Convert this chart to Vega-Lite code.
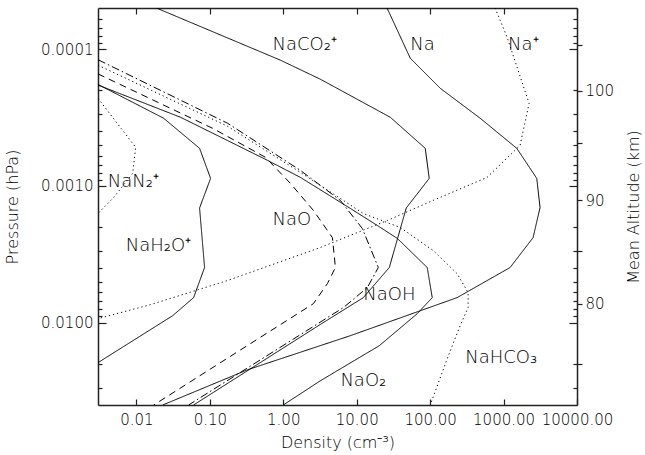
{
  "$schema": "https://vega.github.io/schema/vega-lite/v6.json",
  "width": 479,
  "height": 397,
  "autosize": {"type": "none"},
  "padding": {"left": 98, "top": 8, "right": 68, "bottom": 50},
  "background": "white",
  "config": {
    "view": {"stroke": null},
    "font": "DejaVu Sans",
    "axis": {
      "grid": false,
      "domainColor": "#222",
      "domainWidth": 1.5,
      "tickColor": "#222",
      "tickWidth": 1.2,
      "labelColor": "#000",
      "titleColor": "#000",
      "labelFont": "DejaVu Sans",
      "titleFont": "DejaVu Sans",
      "labelFontSize": 15,
      "titleFontSize": 16,
      "labelFontWeight": 300,
      "titleFontWeight": 300,
      "labelFlush": false,
      "labelOverlap": false,
      "labelBound": false
    }
  },
  "datasets": {
    "profiles": [
      {"s": "NaCO2+", "d": 0.0187, "p": 0.00005},
      {"s": "NaCO2+", "d": 0.916, "p": 0.0001204},
      {"s": "NaCO2+", "d": 3.2, "p": 0.0001659},
      {"s": "NaCO2+", "d": 28.7, "p": 0.0003149},
      {"s": "NaCO2+", "d": 85.8, "p": 0.000531},
      {"s": "NaCO2+", "d": 97.2, "p": 0.000881},
      {"s": "NaCO2+", "d": 47.3, "p": 0.00145},
      {"s": "NaCO2+", "d": 27.8, "p": 0.00395},
      {"s": "NaCO2+", "d": 12.3, "p": 0.00656},
      {"s": "NaCO2+", "d": 3.2, "p": 0.0103},
      {"s": "NaCO2+", "d": 0.06, "p": 0.04},

      {"s": "Na", "d": 25.9, "p": 0.00005},
      {"s": "Na", "d": 53.6, "p": 0.0001164},
      {"s": "Na", "d": 137, "p": 0.000193},
      {"s": "Na", "d": 480, "p": 0.00032},
      {"s": "Na", "d": 1514, "p": 0.000531},
      {"s": "Na", "d": 2831, "p": 0.000881},
      {"s": "Na", "d": 3140, "p": 0.00144},
      {"s": "Na", "d": 2522, "p": 0.00239},
      {"s": "Na", "d": 1227, "p": 0.00395},
      {"s": "Na", "d": 233, "p": 0.00656},
      {"s": "Na", "d": 8.2, "p": 0.01245},
      {"s": "Na", "d": 0.326, "p": 0.0221},
      {"s": "Na", "d": 0.0228, "p": 0.04},

      {"s": "Na+", "d": 767, "p": 0.00005},
      {"s": "Na+", "d": 1117, "p": 0.0000817},
      {"s": "Na+", "d": 2226, "p": 0.000249},
      {"s": "Na+", "d": 1679, "p": 0.000505},
      {"s": "Na+", "d": 597, "p": 0.000866},
      {"s": "Na+", "d": 110, "p": 0.001276},
      {"s": "Na+", "d": 26.1, "p": 0.00179},
      {"s": "Na+", "d": 3.2, "p": 0.00282},
      {"s": "Na+", "d": 0.174, "p": 0.00492},
      {"s": "Na+", "d": 0.0156, "p": 0.00738},
      {"s": "Na+", "d": 0.003, "p": 0.00935},

      {"s": "NaN2+", "d": 0.003, "p": 0.000229},
      {"s": "NaN2+", "d": 0.00978, "p": 0.000522},
      {"s": "NaN2+", "d": 0.0089, "p": 0.00081},
      {"s": "NaN2+", "d": 0.00491, "p": 0.001214},
      {"s": "NaN2+", "d": 0.003, "p": 0.00159},

      {"s": "NaH2O+", "d": 0.003, "p": 0.000181},
      {"s": "NaH2O+", "d": 0.0235, "p": 0.00032},
      {"s": "NaH2O+", "d": 0.0725, "p": 0.000531},
      {"s": "NaH2O+", "d": 0.1024, "p": 0.000881},
      {"s": "NaH2O+", "d": 0.0725, "p": 0.00145},
      {"s": "NaH2O+", "d": 0.0848, "p": 0.00395},
      {"s": "NaH2O+", "d": 0.0601, "p": 0.00656},
      {"s": "NaH2O+", "d": 0.0312, "p": 0.00889},
      {"s": "NaH2O+", "d": 0.003, "p": 0.0196},

      {"s": "NaO2", "d": 0.003, "p": 0.000183},
      {"s": "NaO2", "d": 0.04, "p": 0.000315},
      {"s": "NaO2", "d": 0.61, "p": 0.00065},
      {"s": "NaO2", "d": 1.71, "p": 0.000866},
      {"s": "NaO2", "d": 8.2, "p": 0.001462},
      {"s": "NaO2", "d": 19.1, "p": 0.001947},
      {"s": "NaO2", "d": 35.7, "p": 0.00242},
      {"s": "NaO2", "d": 91.3, "p": 0.00395},
      {"s": "NaO2", "d": 106.8, "p": 0.00656},
      {"s": "NaO2", "d": 66.8, "p": 0.00859},
      {"s": "NaO2", "d": 20.3, "p": 0.01474},
      {"s": "NaO2", "d": 3.2, "p": 0.0266},
      {"s": "NaO2", "d": 1.0, "p": 0.04},

      {"s": "NaO", "d": 0.003, "p": 0.0001517},
      {"s": "NaO", "d": 0.109, "p": 0.000379},
      {"s": "NaO", "d": 0.573, "p": 0.000618},
      {"s": "NaO", "d": 1.253, "p": 0.000959},
      {"s": "NaO", "d": 2.575, "p": 0.001512},
      {"s": "NaO", "d": 4.67, "p": 0.00239},
      {"s": "NaO", "d": 5.13, "p": 0.00395},
      {"s": "NaO", "d": 3.99, "p": 0.00518},
      {"s": "NaO", "d": 2.575, "p": 0.00726},
      {"s": "NaO", "d": 0.0172, "p": 0.04},

      {"s": "NaOH", "d": 0.003, "p": 0.0001194},
      {"s": "NaOH", "d": 0.1743, "p": 0.000348},
      {"s": "NaOH", "d": 1.71, "p": 0.00077},
      {"s": "NaOH", "d": 5.99, "p": 0.001276},
      {"s": "NaOH", "d": 11.94, "p": 0.00205},
      {"s": "NaOH", "d": 19.7, "p": 0.00395},
      {"s": "NaOH", "d": 13.96, "p": 0.00554},
      {"s": "NaOH", "d": 6.58, "p": 0.00776},
      {"s": "NaOH", "d": 0.0514, "p": 0.04},

      {"s": "NaHCO3", "d": 0.003, "p": 0.000131},
      {"s": "NaHCO3", "d": 0.1743, "p": 0.000366},
      {"s": "NaHCO3", "d": 1.71, "p": 0.000796},
      {"s": "NaHCO3", "d": 12.3, "p": 0.001591},
      {"s": "NaHCO3", "d": 39.2, "p": 0.002014},
      {"s": "NaHCO3", "d": 110.2, "p": 0.00297},
      {"s": "NaHCO3", "d": 233, "p": 0.00438},
      {"s": "NaHCO3", "d": 329, "p": 0.00603},
      {"s": "NaHCO3", "d": 329, "p": 0.00776},
      {"s": "NaHCO3", "d": 256, "p": 0.01052},
      {"s": "NaHCO3", "d": 170.8, "p": 0.01835},
      {"s": "NaHCO3", "d": 100.3, "p": 0.04}
    ],
    "labels": [
      {"t": "NaCO₂⁺", "d": 0.713, "p": 0.0000935},
      {"t": "Na", "d": 53.6, "p": 0.0000935},
      {"t": "Na⁺", "d": 1153, "p": 0.0000935},
      {"t": "NaN₂⁺", "d": 0.00407, "p": 0.000943},
      {"t": "NaH₂O⁺", "d": 0.00715, "p": 0.00273},
      {"t": "NaO", "d": 0.713, "p": 0.00179},
      {"t": "NaOH", "d": 12.3, "p": 0.00624},
      {"t": "NaO₂", "d": 6.0, "p": 0.0266},
      {"t": "NaHCO₃", "d": 300, "p": 0.01805}
    ]
  },
  "layer": [
    {
      "data": {"name": "profiles"},
      "mark": {"type": "line", "clip": true, "strokeWidth": 1, "color": "#000"},
      "encoding": {
        "x": {
          "field": "d", "type": "quantitative",
          "scale": {"type": "log", "domain": [0.003, 10000], "nice": false},
          "axis": {
            "orient": "bottom", "values": [0.01, 0.1, 1, 10, 100, 1000, 10000],
            "format": ".2f", "tickSize": -6, "labelPadding": 13,
            "title": "Density (cm⁻³)", "titlePadding": 7
          }
        },
        "y": {
          "field": "p", "type": "quantitative",
          "scale": {"type": "log", "domain": [0.00005, 0.04], "nice": false, "reverse": true},
          "axis": {
            "orient": "left", "values": [0.0001, 0.001, 0.01],
            "format": ".4f", "tickSize": -8, "labelPadding": 13,
            "title": "Pressure (hPa)", "titlePadding": 20
          }
        },
        "detail": {"field": "s"},
        "order": {"field": "p", "type": "quantitative"},
        "strokeDash": {
          "field": "s", "type": "nominal", "legend": null,
          "scale": {
            "domain": ["NaCO2+", "Na", "Na+", "NaN2+", "NaH2O+", "NaO2", "NaO", "NaOH", "NaHCO3"],
            "range": [[1, 0], [1, 0], [1.2, 3], [1.2, 3], [1, 0], [1, 0], [7, 5], [8, 3, 1.5, 3], [1.2, 3]]
          }
        }
      }
    },
    {
      "data": {"name": "profiles"},
      "mark": {"type": "point", "opacity": 0},
      "encoding": {
        "x": {"field": "d", "type": "quantitative", "axis": null},
        "y": {
          "field": "p", "type": "quantitative",
          "axis": {
            "orient": "left", "title": null, "labels": false, "domain": false, "tickSize": -4,
            "values": [0.00006, 0.00007, 0.00008, 0.00009, 0.0002, 0.0003, 0.0004, 0.0005, 0.0006, 0.0007, 0.0008, 0.0009, 0.002, 0.003, 0.004, 0.005, 0.006, 0.007, 0.008, 0.009, 0.02, 0.03]
          }
        }
      }
    },
    {
      "data": {"name": "profiles"},
      "mark": {"type": "point", "opacity": 0},
      "encoding": {
        "x": {"field": "d", "type": "quantitative", "axis": null},
        "y": {
          "field": "p", "type": "quantitative",
          "axis": {
            "orient": "right", "title": null, "labels": false, "domain": true, "tickSize": -8,
            "values": [0.0001, 0.001, 0.01]
          }
        }
      }
    },
    {
      "data": {"name": "profiles"},
      "mark": {"type": "point", "opacity": 0},
      "encoding": {
        "x": {"field": "d", "type": "quantitative", "axis": null},
        "y": {
          "field": "p", "type": "quantitative",
          "axis": {
            "orient": "right", "title": null, "labels": false, "domain": false, "tickSize": -4,
            "values": [0.00006, 0.00007, 0.00008, 0.00009, 0.0002, 0.0003, 0.0004, 0.0005, 0.0006, 0.0007, 0.0008, 0.0009, 0.002, 0.003, 0.004, 0.005, 0.006, 0.007, 0.008, 0.009, 0.02, 0.03]
          }
        }
      }
    },
    {
      "data": {"name": "profiles"},
      "mark": {"type": "point", "opacity": 0},
      "encoding": {
        "x": {"field": "d", "type": "quantitative", "axis": null},
        "y": {
          "field": "p", "type": "quantitative",
          "axis": {
            "orient": "right", "domain": false, "tickSize": 5, "labelPadding": 3,
            "values": [0.0000935, 0.000202, 0.000488, 0.001276, 0.00297, 0.00726, 0.01995],
            "labelExpr": "datum.value > 0.00015 && datum.value < 0.0003 ? '100' : (datum.value > 0.001 && datum.value < 0.0015 ? '90' : (datum.value > 0.006 && datum.value < 0.009 ? '80' : ''))",
            "title": "Mean Altitude (km)", "titleAngle": 270, "titlePadding": 28
          }
        }
      }
    },
    {
      "data": {"name": "profiles"},
      "mark": {"type": "point", "opacity": 0},
      "encoding": {
        "x": {
          "field": "d", "type": "quantitative",
          "axis": {
            "orient": "top", "title": null, "labels": false, "domain": true, "tickSize": -6,
            "values": [0.01, 0.1, 1, 10, 100, 1000, 10000]
          }
        },
        "y": {"field": "p", "type": "quantitative", "axis": null}
      }
    },
    {
      "data": {"name": "labels"},
      "mark": {"type": "text", "align": "left", "baseline": "middle", "fontSize": 18, "fontWeight": 300, "font": "DejaVu Sans", "color": "#000"},
      "encoding": {
        "x": {"field": "d", "type": "quantitative", "axis": null},
        "y": {"field": "p", "type": "quantitative", "axis": null},
        "text": {"field": "t"}
      }
    }
  ],
  "resolve": {"axis": {"x": "independent", "y": "independent"}}
}
